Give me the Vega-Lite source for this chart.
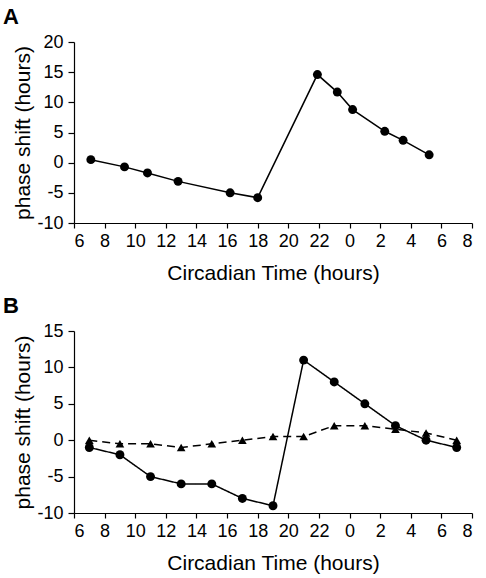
{
  "$schema": "https://vega.github.io/schema/vega-lite/v6.json",
  "padding": {"left": 2, "top": 6, "right": 5, "bottom": 5},
  "spacing": 12,
  "config": {
    "font": "Liberation Sans",
    "view": {"stroke": null},
    "axis": {
      "grid": false,
      "domainColor": "black",
      "domainWidth": 1.2,
      "tickColor": "black",
      "tickWidth": 1.2,
      "tickSize": 5,
      "labelColor": "black",
      "labelFontSize": 18,
      "labelPadding": 4,
      "titleColor": "black",
      "titleFontSize": 21,
      "titleFontWeight": "normal"
    },
    "axisY": {"titlePadding": 3, "tickSize": 6, "labelPadding": 5},
    "axisX": {"titlePadding": 12},
    "title": {"fontSize": 22, "fontWeight": "bold", "color": "black", "anchor": "start", "frame": "bounds"}
  },
  "datasets": {
    "a": [
      {"ct": 7.1, "shift": 0.5},
      {"ct": 9.3, "shift": -0.7},
      {"ct": 10.8, "shift": -1.7},
      {"ct": 12.8, "shift": -3.1},
      {"ct": 16.2, "shift": -5.0},
      {"ct": 18.0, "shift": -5.8},
      {"ct": 21.9, "shift": 14.6},
      {"ct": 23.2, "shift": 11.7},
      {"ct": 24.2, "shift": 8.8},
      {"ct": 26.3, "shift": 5.2},
      {"ct": 27.5, "shift": 3.7},
      {"ct": 29.2, "shift": 1.3}
    ],
    "b": [
      {"ct": 7, "shift": -1, "group": "circle"},
      {"ct": 9, "shift": -2, "group": "circle"},
      {"ct": 11, "shift": -5, "group": "circle"},
      {"ct": 13, "shift": -6, "group": "circle"},
      {"ct": 15, "shift": -6, "group": "circle"},
      {"ct": 17, "shift": -8, "group": "circle"},
      {"ct": 19, "shift": -9, "group": "circle"},
      {"ct": 21, "shift": 11, "group": "circle"},
      {"ct": 23, "shift": 8, "group": "circle"},
      {"ct": 25, "shift": 5, "group": "circle"},
      {"ct": 27, "shift": 2, "group": "circle"},
      {"ct": 29, "shift": 0, "group": "circle"},
      {"ct": 31, "shift": -1, "group": "circle"},
      {"ct": 7, "shift": 0, "group": "triangle"},
      {"ct": 9, "shift": -0.5, "group": "triangle"},
      {"ct": 11, "shift": -0.5, "group": "triangle"},
      {"ct": 13, "shift": -1, "group": "triangle"},
      {"ct": 15, "shift": -0.5, "group": "triangle"},
      {"ct": 17, "shift": 0, "group": "triangle"},
      {"ct": 19, "shift": 0.5, "group": "triangle"},
      {"ct": 21, "shift": 0.5, "group": "triangle"},
      {"ct": 23, "shift": 2, "group": "triangle"},
      {"ct": 25, "shift": 2, "group": "triangle"},
      {"ct": 27, "shift": 1.5, "group": "triangle"},
      {"ct": 29, "shift": 1, "group": "triangle"},
      {"ct": 31, "shift": 0, "group": "triangle"}
    ]
  },
  "vconcat": [
    {
      "title": {"text": "A", "dx": -10},
      "width": 398,
      "height": 181,
      "data": {"name": "a"},
      "encoding": {
        "x": {"field": "ct", "type": "quantitative", "scale": {"domain": [6, 32], "nice": false},
              "axis": {"title": "Circadian Time (hours)", "values": [6,8,10,12,14,16,18,20,22,24,26,28,30,32], "labelExpr": "datum.value % 24"}},
        "y": {"field": "shift", "type": "quantitative", "scale": {"domain": [-10, 20], "nice": false},
              "axis": {"title": "phase shift (hours)", "values": [-10,-5,0,5,10,15,20], "labelExpr": "datum.value < 0 ? '-' + abs(datum.value) : '' + datum.value"}}
      },
      "layer": [
        {"mark": {"type": "line", "color": "black", "strokeWidth": 1.5}},
        {"mark": {"type": "point", "shape": "circle", "filled": true, "color": "black", "opacity": 1, "size": 80}}
      ]
    },
    {
      "title": {"text": "B", "dx": -10},
      "width": 398,
      "height": 182,
      "data": {"name": "b"},
      "encoding": {
        "x": {"field": "ct", "type": "quantitative", "scale": {"domain": [6, 32], "nice": false},
              "axis": {"title": "Circadian Time (hours)", "values": [6,8,10,12,14,16,18,20,22,24,26,28,30,32], "labelExpr": "datum.value % 24"}},
        "y": {"field": "shift", "type": "quantitative", "scale": {"domain": [-10, 15], "nice": false},
              "axis": {"title": "phase shift (hours)", "values": [-10,-5,0,5,10,15], "labelExpr": "datum.value < 0 ? '-' + abs(datum.value) : '' + datum.value"}}
      },
      "layer": [
        {"mark": {"type": "line", "color": "black", "strokeWidth": 1.5},
         "encoding": {
           "detail": {"field": "group", "type": "nominal"},
           "strokeDash": {"field": "group", "type": "nominal", "scale": {"domain": ["circle", "triangle"], "range": [[1, 0], [8, 5]]}, "legend": null}
         }},
        {"mark": {"type": "point", "filled": true, "color": "black", "opacity": 1},
         "encoding": {
           "shape": {"field": "group", "type": "nominal", "scale": {"domain": ["circle", "triangle"], "range": ["circle", "triangle-up"]}, "legend": null},
           "size": {"field": "group", "type": "nominal", "scale": {"domain": ["circle", "triangle"], "range": [80, 75]}, "legend": null}
         }}
      ]
    }
  ]
}
